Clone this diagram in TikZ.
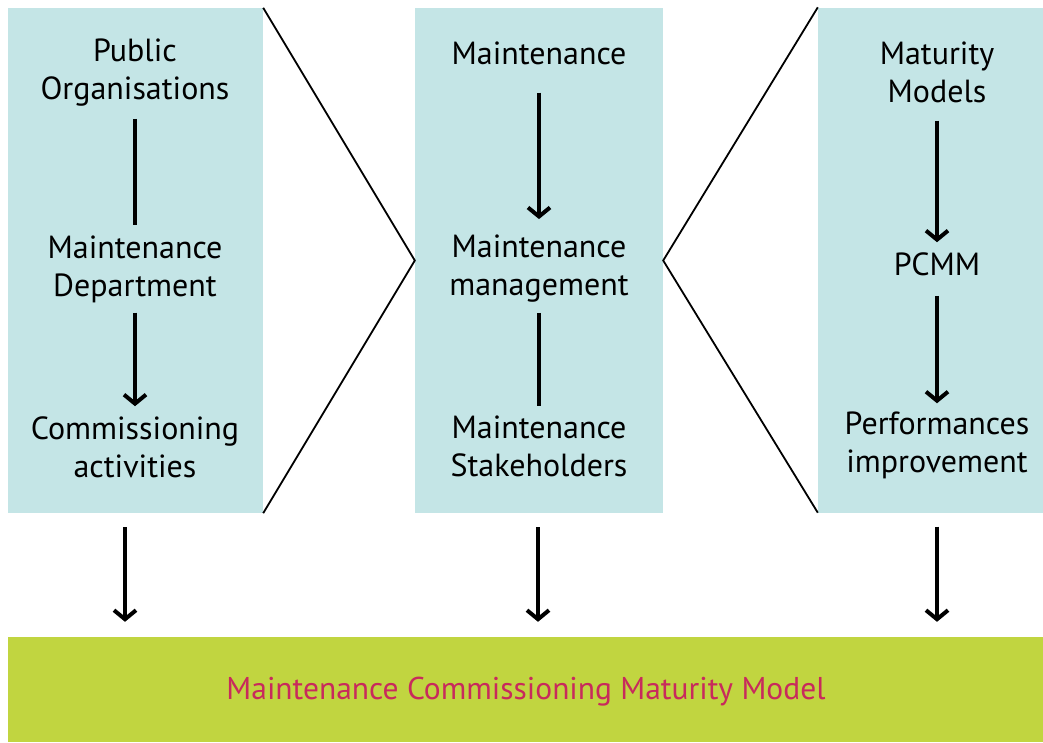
\documentclass[tikz,border=0pt]{standalone}
\usepackage{fontspec}
\setmainfont{PT Sans}
\usetikzlibrary{arrows.meta}
\definecolor{paleblue}{HTML}{C4E5E6}
\definecolor{limegreen}{HTML}{C1D540}
\definecolor{crimsontext}{HTML}{C82A5C}
\tikzset{
  bluebox/.style={fill=paleblue, draw=none, inner sep=0pt, minimum width=#1},
  lbl/.style={align=center, inner sep=0pt, font=\fontsize{32}{38}\selectfont},
  conn/.style={line width=4pt},
  arr/.style={line width=4pt, -{Straight Barb[length=9pt, width=22pt, line width=4pt]}},
  chev/.style={line width=1.8pt, line join=miter}
}
\begin{document}
\begin{tikzpicture}[x=1pt, y=-1pt]
\useasboundingbox (0,0) rectangle (1043,742);
% boxes
\node[bluebox=255pt, minimum height=505pt] (lb) at (135.5,260.5) {};
\node[bluebox=248pt, minimum height=505pt] (mb) at (539,260.5) {};
\node[bluebox=225pt, minimum height=505pt] (rb) at (930.5,260) {};
\node[fill=limegreen, inner sep=0pt, minimum width=1035pt, minimum height=105pt] (gb) at (525.5,689.5) {};
\node[inner sep=0pt, text=crimsontext, font=\fontsize{31.5}{36}\selectfont] (gt) at (526,692) {Maintenance Commissioning Maturity Model};
% chevrons
\draw[chev] (lb.north east) -- (mb.west) -- (lb.south east);
\draw[chev] (rb.north west) -- (mb.east) -- (rb.south west);
% left column
\node[lbl] (po) at (135,73) {Public\\Organisations};
\node[lbl] (md) at (135,269) {Maintenance\\Department};
\node[lbl] (ca) at (135,447) {Commissioning\\activities};
% middle column
\node[lbl] (m1) at (539,53) {Maintenance};
\node[lbl] (mm) at (539,269) {Maintenance\\management};
\node[lbl] (ms) at (539,446.5) {Maintenance\\Stakeholders};
% right column
\node[lbl] (mmod) at (937,72) {Maturity\\Models};
\node[lbl] (pc) at (937,264) {PCMM};
\node[lbl] (pi) at (937,445) {Performances\\improvement};
% connectors
\draw[conn, shorten <=12pt, shorten >=10pt] (po) -- (md);
\draw[arr, shorten <=10pt, shorten >=10pt] (md) -- (ca);
\draw[arr, shorten <=28pt, shorten >=16pt] (m1) -- (mm);
\draw[conn, shorten <=10pt, shorten >=10pt] (mm) -- (ms);
\draw[arr, shorten <=18pt, shorten >=10pt] (mmod) -- (pc);
\draw[arr, shorten <=20pt, shorten >=8pt] (pc) -- (pi);
% bottom arrows
\draw[arr, shorten <=14pt, shorten >=15pt] ([xshift=-10.5pt]lb.south) -- ([xshift=-10.5pt]lb.south |- gb.north);
\draw[arr, shorten <=14pt, shorten >=15pt] ([xshift=-1pt]mb.south) -- ([xshift=-1pt]mb.south |- gb.north);
\draw[arr, shorten <=14pt, shorten >=15pt] ([xshift=6.5pt]rb.south) -- ([xshift=6.5pt]rb.south |- gb.north);
\end{tikzpicture}
\end{document}
